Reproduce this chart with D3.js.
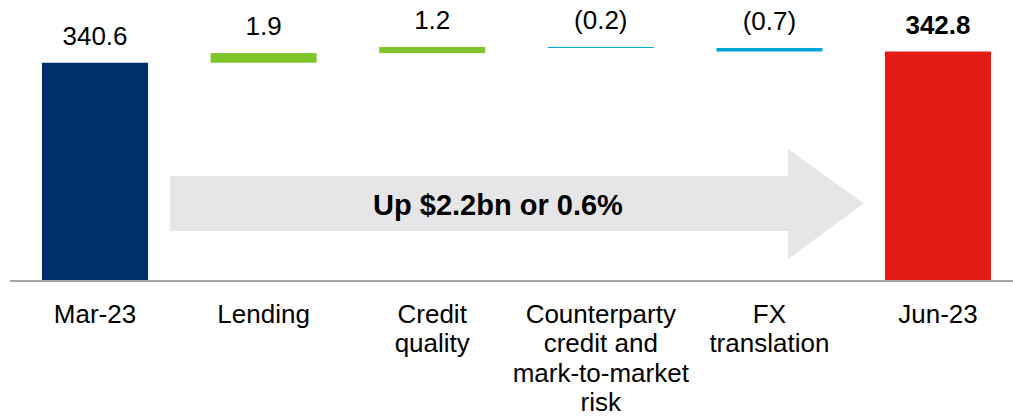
<!DOCTYPE html>
<html>
<head>
<meta charset="utf-8">
<script src="https://cdn.jsdelivr.net/npm/d3@7"></script>
<style>
  html, body { margin: 0; padding: 0; background: #fff; }
  svg { display: block; font-family: "Liberation Sans", Arial, sans-serif; }
</style>
</head>
<body>
<svg id="chart" width="1013" height="417"></svg>
<script>

// Chart data.
var categories = ['Mar-23', 'Lending', 'Credit quality',
  'Counterparty credit and mark-to-market risk', 'FX translation', 'Jun-23'];
var labelLines = [['Mar-23'], ['Lending'], ['Credit', 'quality'],
  ['Counterparty', 'credit and', 'mark-to-market', 'risk'],
  ['FX', 'translation'], ['Jun-23']];
var values = [340.6, 1.9, 1.2, -0.2, -0.7, 342.8];
var kinds = ['total', 'delta', 'delta', 'delta', 'delta', 'total'];
var valueLabels = ['340.6', '1.9', '1.2', '(0.2)', '(0.7)', '342.8'];
var arrowText = 'Up $2.2bn or 0.6%';

var colors = {
  start: '#002f6b', end: '#e31b13', up: '#7ec42a', down: '#00a5db'
};

var svg = d3.select('#chart');
var baseY = 280;

var x = d3.scaleBand()
  .domain(categories)
  .range([42, 991])
  .paddingInner(0.371)
  .paddingOuter(0);

// Broken axis: the floor value sits on the baseline.
var y = d3.scaleLinear()
  .domain([298, 345])
  .range([baseY, baseY - 47 * 5.1]);

// Work out the floating segments.
var running = 0;
var bars = values.map(function(v, i) {
  var b = { cat: categories[i], label: valueLabels[i], kind: kinds[i] };
  if (kinds[i] === 'total') {
    b.lo = y.domain()[0]; b.hi = v; running = v;
    b.color = i === 0 ? colors.start : colors.end;
  } else {
    b.lo = Math.min(running, running + v);
    b.hi = Math.max(running, running + v);
    running += v;
    b.color = v >= 0 ? colors.up : colors.down;
  }
  return b;
});

// Arrow annotation behind the bars.
var ax0 = 170, ax1 = 788, tip = 864, bTop = 176, bBot = 231, hTop = 149,
  hBot = 259;
var midY = (bTop + bBot) / 2;
svg.append('path')
  .attr('d', 'M' + ax0 + ',' + bTop + 'H' + ax1 + 'V' + hTop +
    'L' + tip + ',' + midY + 'L' + ax1 + ',' + hBot + 'V' + bBot +
    'H' + ax0 + 'Z')
  .attr('fill', '#e6e5e8');

svg.append('text')
  .attr('x', 498)
  .attr('y', 215)
  .attr('text-anchor', 'middle')
  .attr('font-size', 29)
  .attr('font-weight', 'bold')
  .attr('fill', '#000')
  .text(arrowText);

// Bars.
svg.selectAll('rect.bar')
  .data(bars)
  .enter().append('rect')
  .attr('class', 'bar')
  .attr('x', function(d) { return x(d.cat); })
  .attr('width', x.bandwidth())
  .attr('y', function(d) { return y(d.hi); })
  .attr('height', function(d) { return y(d.lo) - y(d.hi); })
  .attr('fill', function(d) { return d.color; });

// Value labels.
svg.selectAll('text.val')
  .data(bars)
  .enter().append('text')
  .attr('class', 'val')
  .attr('x', function(d) { return x(d.cat) + x.bandwidth() / 2; })
  .attr('y', function(d) { return y(d.hi) - 18; })
  .attr('text-anchor', 'middle')
  .attr('font-size', 26)
  .attr('font-weight', function(d, i) {
    return i === bars.length - 1 ? 'bold' : 'normal';
  })
  .attr('fill', '#000')
  .text(function(d) { return d.label; });

// Baseline.
svg.append('line')
  .attr('x1', 10).attr('x2', 1013)
  .attr('y1', baseY + 1).attr('y2', baseY + 1)
  .attr('stroke', '#858585')
  .attr('stroke-width', 1.5);

// Category labels.
var cat = svg.selectAll('text.cat')
  .data(categories)
  .enter().append('text')
  .attr('class', 'cat')
  .attr('text-anchor', 'middle')
  .attr('font-size', 26)
  .attr('fill', '#000');

cat.selectAll('tspan')
  .data(function(d, i) {
    return labelLines[i].map(function(t) { return { t: t, c: d }; });
  })
  .enter().append('tspan')
  .attr('x', function(d) { return x(d.c) + x.bandwidth() / 2; })
  .attr('y', function(d, j) { return 323 + j * 29.3; })
  .text(function(d) { return d.t; });

</script>
</body>
</html>
